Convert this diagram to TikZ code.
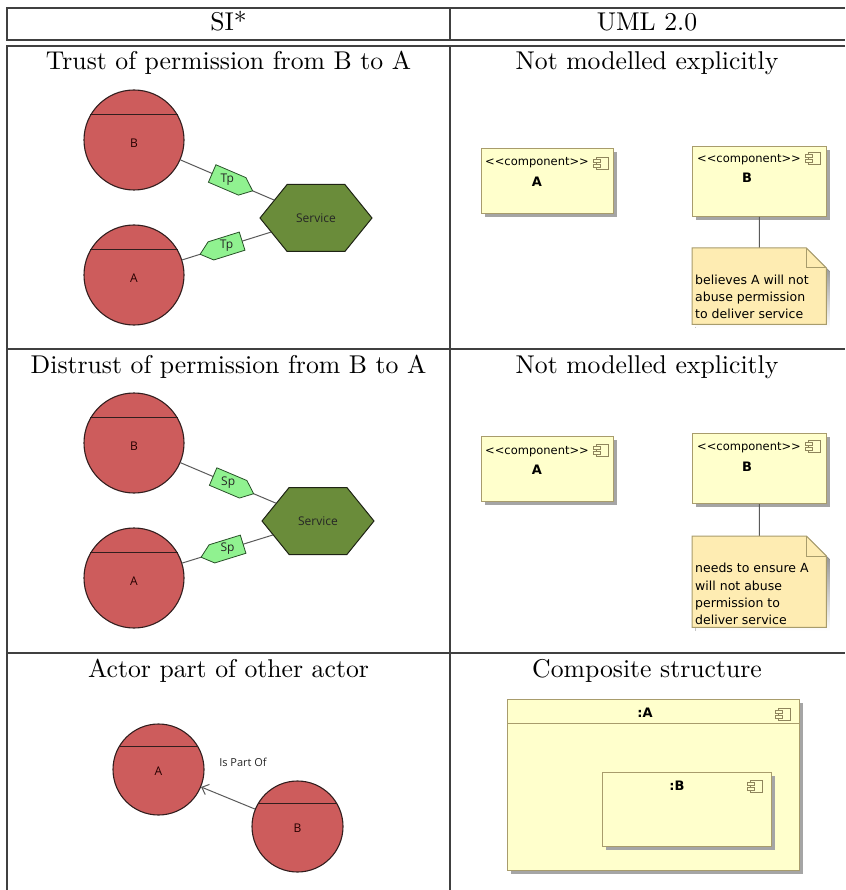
\documentclass[tikz,border=0pt]{standalone}
\usepackage{fontspec}
\newfontfamily\umlfont{DejaVu Sans}
\newfontfamily\sifont{Open Sans}
\usetikzlibrary{shapes.symbols,shadows,arrows.meta,calc}

\definecolor{rule}{RGB}{64,64,64}
\definecolor{actorfill}{RGB}{205,92,92}
\definecolor{actorline}{RGB}{50,30,30}
\definecolor{goalfill}{RGB}{106,140,58}
\definecolor{goalline}{RGB}{30,35,20}
\definecolor{depfill}{RGB}{144,242,144}
\definecolor{depline}{RGB}{40,80,40}
\definecolor{compfill}{RGB}{255,255,204}
\definecolor{compline}{RGB}{168,156,108}
\definecolor{notefill}{RGB}{254,236,178}
\definecolor{shade}{RGB}{165,165,165}
\definecolor{linkgray}{RGB}{90,90,90}

\tikzset{
  tablerule/.style={draw=rule, line width=1.1pt},
  title/.style={scale=2.57, anchor=base, inner sep=0pt, font=\fontsize{10}{12}\selectfont},
  actor/.style={circle, draw=actorline, fill=actorfill, line width=1.1pt, inner sep=0pt, minimum size=#1},
  actor/.default=100pt,
  chord/.style={draw=actorline, line width=1.2pt},
  actorname/.style={font=\sifont\fontsize{12}{14}\selectfont, text=black!85!red, inner sep=0pt},
  goal/.style={signal, signal to=east and west, signal pointer angle=102, draw=goalline, fill=goalfill,
    line width=1pt, minimum width=112pt, minimum height=67pt, inner sep=0pt,
    font=\sifont\fontsize{12}{14}\selectfont, text=black!85},
  link/.style={draw=linkgray, line width=1pt},
  dep/.style={signal, signal pointer angle=80, draw=depline, fill=depfill, line width=0.8pt,
    minimum width=44pt, minimum height=19pt, inner sep=0pt, sloped, pos=0.5},
  deplabel/.style={font=\sifont\fontsize{12}{14}\selectfont, text=black!85, inner sep=0pt},
  partof/.style={draw=linkgray, line width=1pt, -{Straight Barb[length=6pt,width=11pt]}},
  comp/.style={draw=compline, fill=compfill, line width=1pt, anchor=north west, inner sep=0pt,
    drop shadow={shadow xshift=3.5pt, shadow yshift=-3.5pt, opacity=1, fill=shade, draw=none}},
  stereo/.style={font=\umlfont\fontsize{11.5}{13}\selectfont, anchor=base west, inner sep=0pt},
  compname/.style={font=\umlfont\bfseries\fontsize{13}{15}\selectfont, anchor=base, inner sep=0pt},
  notearea/.style={anchor=north west, inner sep=0pt},
  notetext/.style={font=\umlfont\fontsize{12.5}{17}\selectfont, anchor=base west, inner sep=0pt},
  notelink/.style={draw=linkgray, line width=1pt},
  compicon/.pic={
    \draw[draw=compline!85!black, fill=compfill, line width=0.8pt] (3,0) rectangle (15,12);
    \draw[draw=compline!85!black, fill=compfill, line width=0.8pt] (0,2.5) rectangle (7,5.5);
    \draw[draw=compline!85!black, fill=compfill, line width=0.8pt] (0,7) rectangle (7,10);
  },
}

% dog-eared note drawn over the area of a named node
\newcommand\dognote[1]{%
  \fill[shade] ($(#1.north west)+(3.5,3.5)$) -- ($(#1.north east)+(-16.5,3.5)$)
    -- ($(#1.north east)+(3.5,23.5)$) -- ($(#1.south east)+(3.5,3.5)$)
    -- ($(#1.south west)+(3.5,3.5)$) -- cycle;
  \filldraw[fill=notefill, draw=compline, line width=1pt] (#1.north west)
    -- ($(#1.north east)+(-20,0)$) -- ($(#1.north east)+(0,20)$)
    -- (#1.south east) -- (#1.south west) -- cycle;
  \draw[compline, line width=1pt] ($(#1.north east)+(-20,0)$)
    -- ($(#1.north east)+(-20,20)$) -- ($(#1.north east)+(0,20)$);
}

\begin{document}
\begin{tikzpicture}[x=1pt, y=-1pt]
\useasboundingbox (0,0) rectangle (845,890);

% ---------- table rules ----------
\draw[tablerule] (845,8) -- (7,8) -- (7,40) -- (845,40);
\draw[tablerule] (450,8) -- (450,40);
\draw[tablerule] (845,46) -- (7,46) -- (7,890);
\draw[tablerule] (7,349) -- (845,349);
\draw[tablerule] (7,653) -- (845,653);
\draw[tablerule] (450,46) -- (450,890);

% ---------- headings ----------
\node[title] (hsi)  at (228.5,31) {SI*};
\node[title] (huml) at (647,31)   {UML 2.0};
\node[title] (t1l) at (228.5,70) {Trust of permission from B to A};
\node[title] (t1r) at (647,70)   {Not modelled explicitly};
\node[title] (t2l) at (228.5,373) {Distrust of permission from B to A};
\node[title] (t2r) at (647,373)   {Not modelled explicitly};
\node[title] (t3l) at (228.5,677) {Actor part of other actor};
\node[title] (t3r) at (647,677)   {Composite structure};

% ---------- row 1, SI* ----------
\node[actor] (B1) at (134,140) {};
\draw[chord] (B1.150) -- (B1.30);
\node[actorname] (B1n) at ($(B1.center)+(0,3)$) {B};
\node[actor] (A1) at (134,275) {};
\draw[chord] (A1.150) -- (A1.30);
\node[actorname] (A1n) at ($(A1.center)+(0,3)$) {A};
\node[goal] (S1) at (316,218) {Service};
\draw[link] (B1) -- node[dep, signal to=east] (d1) {} (S1);
\node[deplabel] (d1n) at (d1) {Tp};
\draw[link] (A1) -- node[dep, signal to=west] (d2) {} (S1);
\node[deplabel] (d2n) at (d2) {Tp};

% ---------- row 2, SI* ----------
\node[actor] (B2) at (134,443) {};
\draw[chord] (B2.150) -- (B2.30);
\node[actorname] (B2n) at ($(B2.center)+(0,3)$) {B};
\node[actor] (A2) at (134,578) {};
\draw[chord] (A2.150) -- (A2.30);
\node[actorname] (A2n) at ($(A2.center)+(0,3)$) {A};
\node[goal] (S2) at (318,521) {Service};
\draw[link] (B2) -- node[dep, signal to=east] (d3) {} (S2);
\node[deplabel] (d3n) at (d3) {Sp};
\draw[link] (A2) -- node[dep, signal to=west] (d4) {} (S2);
\node[deplabel] (d4n) at (d4) {Sp};

% ---------- row 3, SI* ----------
\node[actor=91pt] (A3) at (158.5,769.5) {};
\draw[chord] (A3.150) -- (A3.30);
\node[actorname] (A3n) at ($(A3.center)+(0,2)$) {A};
\node[actor=91pt] (B3) at (297.5,826.5) {};
\draw[chord] (B3.150) -- (B3.30);
\node[actorname] (B3n) at ($(B3.center)+(0,2)$) {B};
\draw[partof] (B3) -- (A3);
\node[deplabel, font=\sifont\fontsize{11}{13}\selectfont] (pof) at (243,762) {Is Part Of};

% ---------- row 1, UML ----------
\node[comp, minimum width=132pt, minimum height=65pt] (cA1) at (481,148) {};
\node[stereo] (cA1s) at (485,166) {<{}<component>{}>};
\pic at (593,157) {compicon};
\node[compname] (cA1n) at (537,187) {A};

\node[comp, minimum width=134pt, minimum height=70pt] (cB1) at (692,146) {};
\node[stereo] (cB1s) at (697,163) {<{}<component>{}>};
\pic at (805,152) {compicon};
\node[compname] (cB1n) at (747,183) {B};

\node[notearea, minimum width=134pt, minimum height=76pt] (n1) at (692,248) {};
\draw[notelink] (cB1) -- (n1);
\dognote{n1}
\node[notetext] (n1a) at (695,284) {believes A will not};
\node[notetext] (n1b) at (695,301) {abuse permission};
\node[notetext] (n1c) at (695,318) {to deliver service};

% ---------- row 2, UML ----------
\node[comp, minimum width=132pt, minimum height=65pt] (cA2) at (481,436) {};
\node[stereo] (cA2s) at (485,454) {<{}<component>{}>};
\pic at (593,444) {compicon};
\node[compname] (cA2n) at (537,474) {A};

\node[comp, minimum width=134pt, minimum height=70pt] (cB2) at (692,433) {};
\node[stereo] (cB2s) at (697,450) {<{}<component>{}>};
\pic at (805,440) {compicon};
\node[compname] (cB2n) at (747,471) {B};

\node[notearea, minimum width=134pt, minimum height=91pt] (n2) at (692,536) {};
\draw[notelink] (cB2) -- (n2);
\dognote{n2}
\node[notetext] (n2a) at (695,572) {needs to ensure A};
\node[notetext] (n2b) at (695,590) {will not abuse};
\node[notetext] (n2c) at (695,607) {permission to};
\node[notetext] (n2d) at (695,624) {deliver service};

% ---------- row 3, UML composite structure ----------
\node[comp, minimum width=292pt, minimum height=171pt] (pA) at (507,699) {};
\draw[compline, line width=1pt] ($(pA.north west)+(0,24)$) -- ($(pA.north east)+(0,24)$);
\node[compname] (pAn) at (645,717) {:A};
\pic at (775,708) {compicon};

\node[comp, minimum width=169pt, minimum height=74pt] (pB) at (602,772) {};
\node[compname] (pBn) at (677,790) {:B};
\pic at (747,780) {compicon};
\end{tikzpicture}
\end{document}
